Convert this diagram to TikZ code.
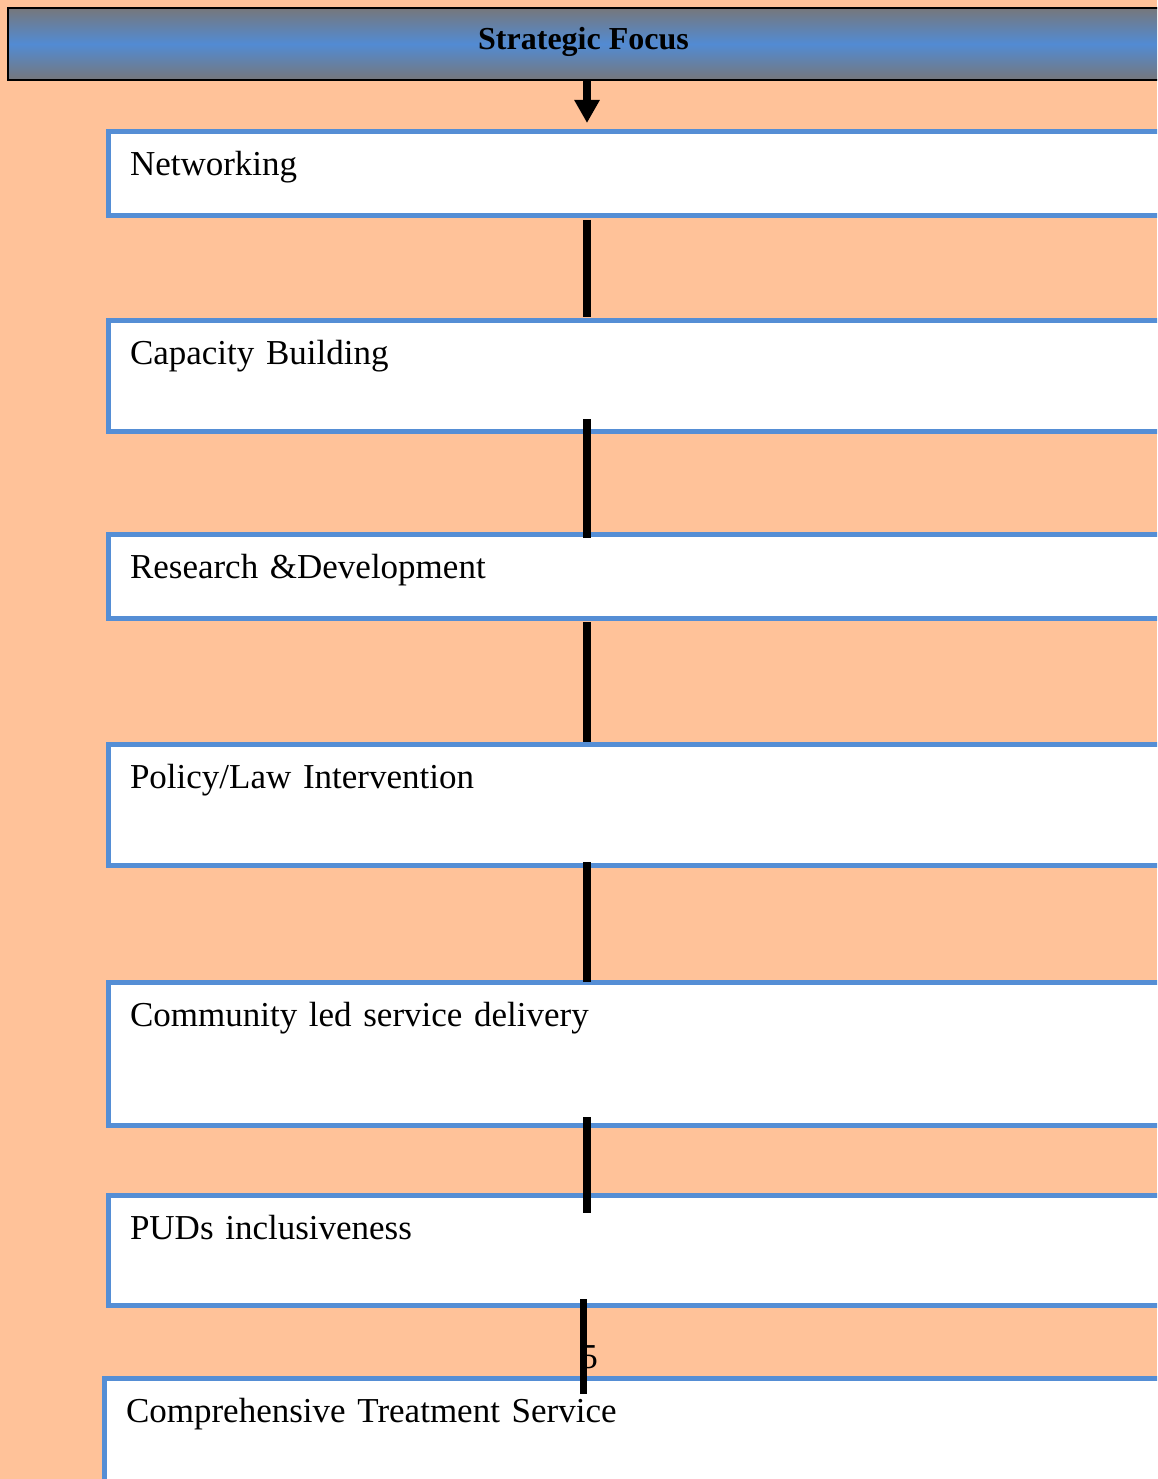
\documentclass[tikz,border=0pt]{standalone}
\usepackage{fontspec}
\setmainfont{Liberation Serif}
\usepackage{tikz}
\usetikzlibrary{positioning,arrows.meta}

\definecolor{peach}{RGB}{255,194,153}
\definecolor{boxblue}{RGB}{85,142,213}
\definecolor{bargray}{RGB}{118,119,123}
\definecolor{barblue}{RGB}{82,139,211}

\tikzset{
  stagebox/.style={draw=boxblue, line width=5pt, fill=white, outer sep=0pt,
    inner xsep=22pt, inner ysep=0pt, text width=1048pt, align=left,
    text height=44pt, text depth=#1,
    font=\fontsize{35}{40}\selectfont},
  headbar/.style={draw=black, line width=2pt, outer sep=0pt, inner sep=0pt,
    top color=bargray, bottom color=bargray, middle color=barblue,
    minimum width=1151pt, minimum height=72pt,
    text height=24pt, text depth=12pt,
    font=\fontsize{32}{38}\bfseries\selectfont},
  link/.style={line width=7.5pt, black},
  flow/.style={line width=8.5pt, black, -{Triangle[width=24pt,length=23pt]}}
}

\begin{document}
\begin{tikzpicture}[x=1pt, y=-1pt]

  % page
  \useasboundingbox (0,0) rectangle (1157,1479);
  \fill[peach] (0,0) rectangle (1157,1479);
  \clip (0,0) rectangle (1157,1479);

  % spine of the chart
  \coordinate (spine)   at (587,0);
  \coordinate (spine-b) at (583.5,0);

  % Header
  \node[headbar, anchor=north west] (head) at (8,8) {Strategic Focus}; %

  % Stages
  \node[stagebox=40pt, anchor=north west] (net) at (108,132) {Networking}; %
  \node[stagebox=67.5pt, below=104pt of net]  (cap)  {Capacity Building}; %
  \node[stagebox=39.5pt, below=103pt of cap]  (rnd)  {Research \&Development}; %
  \node[stagebox=76.5pt, below=126.5pt of rnd] (law) {Policy/Law Intervention}; %
  \node[stagebox=99.5pt, below=117pt of law] (comm) {Community led service delivery}; %
  \node[stagebox=66pt, below=70pt of comm]    (puds) {PUDs inclusiveness}; %
  \node[stagebox=100pt, below=73pt of puds, xshift=-4pt] (treat) {Comprehensive Treatment Service}; %

  % page number
  \node[font=\fontsize{35}{40}\selectfont, anchor=base] (pnum) at (589,1368) {5}; %

  % Header arrow
  \draw[flow, shorten >=9pt] (head.south -| spine) -- (net.north -| spine);

  % Links between the stages
  \draw[link, shorten <=4pt, shorten >=3pt]         (net.south -| spine)  -- (cap.north -| spine);
  \draw[link, shorten <=-12.5pt, shorten >=-3.5pt]  (cap.south -| spine)  -- (rnd.north -| spine);
  \draw[link, shorten <=4pt, shorten >=2.5pt]       (rnd.south -| spine)  -- (law.north -| spine);
  \draw[link, shorten <=-3pt]                       (law.south -| spine)  -- (comm.north -| spine);
  \draw[link, shorten <=-8.5pt, shorten >=-17.5pt]  (comm.south -| spine) -- (puds.north -| spine);
  \draw[link, shorten <=-6.5pt, shorten >=-15.5pt]  (puds.south -| spine-b) -- (treat.north -| spine-b);

\end{tikzpicture}
\end{document}
